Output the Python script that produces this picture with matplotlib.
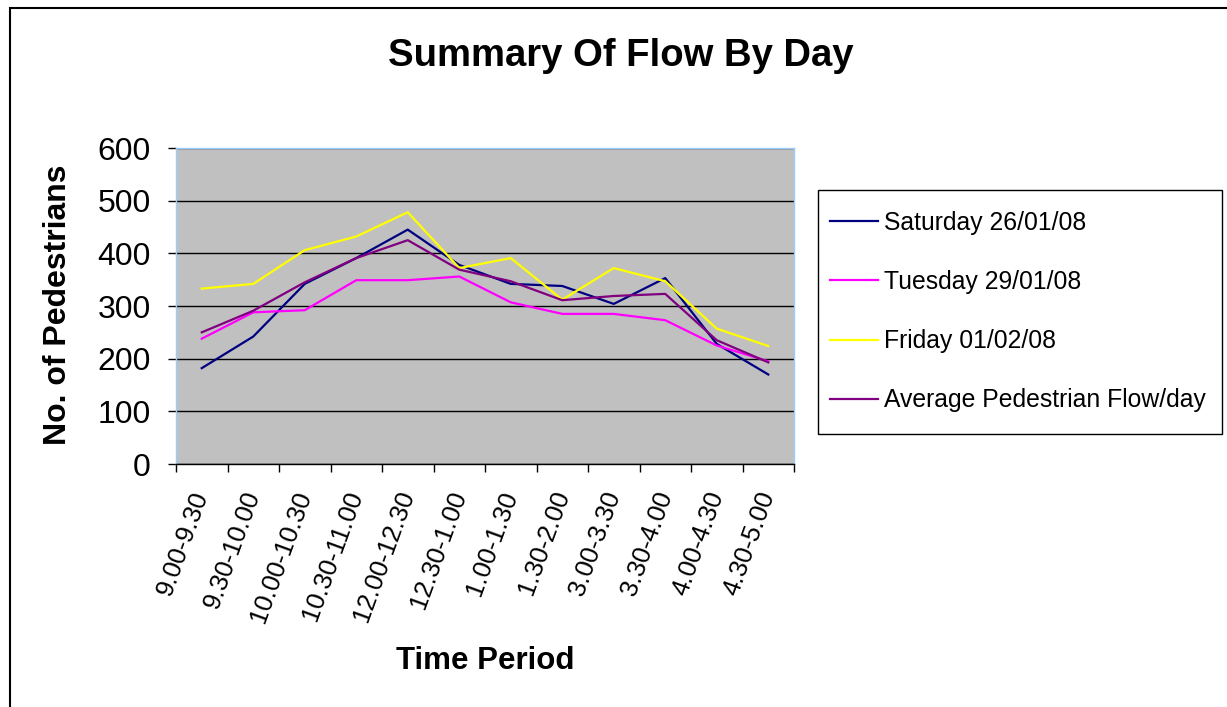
import numpy as np
import matplotlib
matplotlib.use("Agg")
import matplotlib.pyplot as plt
from matplotlib.patches import Rectangle

plt.rcParams['font.family'] = ['Liberation Sans', 'DejaVu Sans']

# ---------------- data ----------------
periods = ['9.00-9.30', '9.30-10.00', '10.00-10.30', '10.30-11.00', '12.00-12.30',
           '12.30-1.00', '1.00-1.30', '1.30-2.00', '3.00-3.30', '3.30-4.00',
           '4.00-4.30', '4.30-5.00']
saturday = [182, 242, 342, 391, 445, 378, 342, 338, 304, 353, 228, 170]
tuesday = [238, 288, 292, 349, 349, 356, 307, 285, 285, 273, 225, 195]
friday = [333, 342, 406, 432, 478, 372, 391, 312, 372, 347, 257, 224]
average = [250, 291, 345, 391, 425, 369, 347, 311, 319, 323, 235, 193]

series_names = ['Saturday 26/01/08', 'Tuesday 29/01/08', 'Friday 01/02/08',
                'Average Pedestrian Flow/day']
series_colors = ['#000080', '#FF00FF', '#FFFF00', '#800080']

# ---------------- plot ----------------
fig = plt.figure(figsize=(12.27, 7.07), dpi=100)
fig.patch.set_facecolor('white')

W, H = 1227, 707

# outer chart border
fig.patches.append(Rectangle((10/W, -0.05), 1.2, 1 - 8/H + 0.05,
                             transform=fig.transFigure, fill=False,
                             edgecolor='black', linewidth=1.5, zorder=0))

ax = fig.add_axes([176/W, 1 - 464/H, (794 - 176)/W, (464 - 148)/H])
ax.set_facecolor('#C0C0C0')

x = np.arange(len(periods))
for vals, name, col in zip([saturday, tuesday, friday, average], series_names, series_colors):
    ax.plot(x, vals, color=col, linewidth=1.6, label=name, zorder=3)

ax.set_xlim(-0.5, len(periods) - 0.5)
ax.set_ylim(0, 600)
ax.set_yticks(range(0, 601, 100))
ax.yaxis.grid(True, color='black', linewidth=1.0)
ax.set_axisbelow(True)

ax.set_xticks(x)
ax.set_xticklabels(periods, rotation=70, rotation_mode='anchor', ha='right', va='center')
ax.set_xticks(np.arange(-0.5, len(periods), 1), minor=True)
ax.tick_params(axis='x', which='major', length=0, pad=20, labelsize=18.5)
ax.tick_params(axis='x', which='minor', length=6, width=1, direction='out', color='black')
ax.tick_params(axis='y', length=6, width=1, direction='out', color='black', labelsize=23, pad=12)

for s in ['top', 'right', 'left']:
    ax.spines[s].set_color('#99CCFF')
    ax.spines[s].set_linewidth(1.0)
ax.spines['bottom'].set_color('black')
ax.spines['bottom'].set_linewidth(1.0)

fig.text(621/W, 1 - 56/H, 'Summary Of Flow By Day', ha='center', va='center',
         fontsize=27.5, fontweight='bold')
fig.text(58/W, 1 - 305/H, 'No. of Pedestrians', ha='center', va='center',
         rotation=90, fontsize=23, fontweight='bold')
fig.text(485/W, 1 - 661/H, 'Time Period', ha='center', va='center',
         fontsize=22.5, fontweight='bold')

# legend box drawn separately, entries placed inside it
fig.patches.append(Rectangle((818/W, 1 - 434/H), 404/W, 244/H,
                             transform=fig.transFigure, facecolor='white',
                             edgecolor='black', linewidth=1.0, zorder=1))
leg = fig.legend(loc='upper left', bbox_to_anchor=(830/W, 1 - 211/H),
                 fontsize=17.8, frameon=False, handlelength=1.95,
                 handletextpad=0.25, labelspacing=1.42, borderpad=0,
                 borderaxespad=0)
leg.set_zorder(5)
for line in leg.get_lines():
    line.set_linewidth(1.6)

fig.savefig('out.png', dpi=100)
